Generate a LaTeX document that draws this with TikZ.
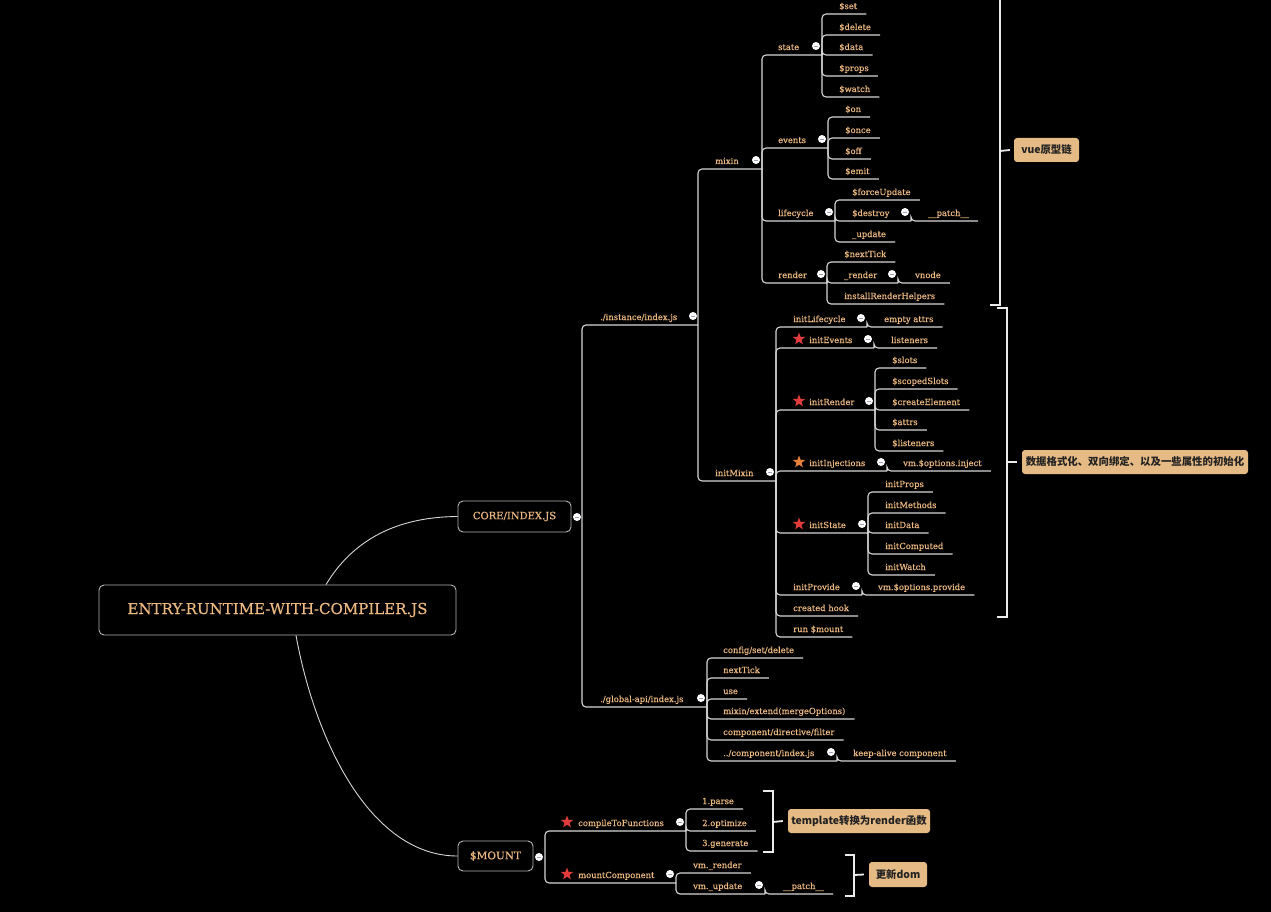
\documentclass[tikz,border=0pt]{standalone}
\usepackage{fontspec}
\setmainfont{DejaVu Serif}
\newfontfamily\slab{DejaVu Serif}[BoldFont=DejaVu Serif, BoldFeatures={FakeBold=0.45}]
\newfontfamily\cjk{Noto Sans CJK SC}
\usetikzlibrary{shapes.geometric,calc}
\definecolor{txt}{HTML}{EBB880}
\definecolor{lnc}{HTML}{D6D6D6}
\definecolor{labc}{HTML}{E6BA84}
\definecolor{starr}{HTML}{E23B3B}
\definecolor{staro}{HTML}{E8823A}
\definecolor{boxb}{HTML}{B5B5B5}
\definecolor{labt}{HTML}{222222}
\definecolor{minusc}{HTML}{9AA3B5}
\tikzset{
  tx/.style={font=\slab\bfseries\fontsize{8.4}{10}\selectfont, text=txt, inner sep=0pt, anchor=base west},
  ln/.style={draw=lnc, line width=1.1pt, rounded corners=4pt},
  cv/.style={draw=lnc, line width=0.9pt},
  br/.style={draw=white!92!black, line width=1.8pt},
  cir/.style={circle, fill=white, minimum size=8pt, inner sep=0pt,
    path picture={\draw[minusc, line width=0.8pt]
      ([xshift=-2pt]path picture bounding box.center) -- ([xshift=2pt]path picture bounding box.center);}},
  starshape/.style={star, star points=5, star point ratio=2.4, minimum size=13pt, inner sep=0pt, draw=none},
  boxnode/.style={draw=boxb, line width=0.9pt, rounded corners=5pt, fill=black, text=txt, inner sep=0pt},
  labnode/.style={fill=labc, rounded corners=3pt, text=labt, inner sep=0pt,
    font=\cjk\bfseries\fontsize{10.4}{12}\selectfont, minimum height=24pt},
}
\newcommand\lf[5]{%
  \node[tx] (#1) at (#2,#3-5) {#4};
  \draw[ln] (#5-sp) |- ([shift={(9pt,-5pt)}]#1.base east);}
\newcommand\pn[7]{%
  \node[tx] (#1) at (#2,#3-5) {#4};
  \coordinate (#1-sp) at (#7,#3);
  \draw[ln] (#5-sp) |- (#1-sp);
  \node[cir] (#1-c) at (#6,#3-9) {};}
\begin{document}
\begin{tikzpicture}[x=1pt,y=-1pt]
\fill[black] (0,0) rectangle (1271,912);
\useasboundingbox (0,0) rectangle (1271,912);

% root and main boxes
\node[boxnode, minimum width=357pt, minimum height=50pt, font=\slab\bfseries\fontsize{15}{17}\selectfont] (root) at (277.5,610) {ENTRY-RUNTIME-WITH-COMPILER.JS};
\node[boxnode, minimum width=113pt, minimum height=31pt, font=\slab\bfseries\fontsize{10}{12}\selectfont] (core) at (514.5,516.5) {CORE/INDEX.JS};
\node[boxnode, minimum width=75pt, minimum height=30pt, font=\slab\bfseries\fontsize{10.5}{12}\selectfont] (mount) at (495.5,856) {\$MOUNT};
\draw[cv] ([xshift=48.5pt]root.north) .. controls (350,545) and (390,517) .. (core.west);
\draw[cv] ([xshift=18.5pt]root.south) .. controls (315,740) and (370,856) .. (mount.west);
\coordinate (core-sp) at (582,517);
\node[cir] (core-c) at (577,517) {};
\coordinate (mount-sp) at (545,857);
\node[cir] (mount-c) at (539,857) {};

% ./instance/index.js
\pn{inst}{600}{325}{./instance/index.js}{core}{693}{698}
\pn{mixin}{715}{169}{mixin}{inst}{756}{762}
\pn{state}{778}{55}{state}{mixin}{816}{822}
\lf{sset}{839}{14}{\$set}{state}
\lf{sdelete}{839}{35}{\$delete}{state}
\lf{sdata}{839}{55}{\$data}{state}
\lf{sprops}{839}{76}{\$props}{state}
\lf{swatch}{839}{97}{\$watch}{state}
\pn{events}{778}{148}{events}{mixin}{822}{828}
\lf{son}{845}{117}{\$on}{events}
\lf{sonce}{845}{138}{\$once}{events}
\lf{soff}{845}{159}{\$off}{events}
\lf{semit}{845}{179}{\$emit}{events}
\pn{lifecycle}{778}{221}{lifecycle}{mixin}{829}{835}
\lf{sforce}{852}{200}{\$forceUpdate}{lifecycle}
\pn{sdestroy}{852}{221}{\$destroy}{lifecycle}{905}{911}
\lf{patcha}{928}{221}{\_\_patch\_\_}{sdestroy}
\lf{uupdate}{852}{242}{\_update}{lifecycle}
\pn{render}{778}{283}{render}{mixin}{821}{827}
\lf{snext}{844}{262}{\$nextTick}{render}
\pn{urender}{844}{283}{\_render}{render}{892}{898}
\lf{vnode}{915}{283}{vnode}{urender}
\lf{irh}{844}{304}{installRenderHelpers}{render}

\pn{initmixin}{715}{481}{initMixin}{inst}{770}{776}
\pn{ilife}{793}{327}{initLifecycle}{initmixin}{861}{867}
\lf{empty}{884}{327}{empty attrs}{ilife}
\pn{ievents}{809}{348}{initEvents}{initmixin}{868}{874}
\lf{listeners}{891}{348}{listeners}{ievents}
\pn{irender}{809}{410}{initRender}{initmixin}{869}{875}
\lf{slots}{892}{368}{\$slots}{irender}
\lf{scoped}{892}{389}{\$scopedSlots}{irender}
\lf{create}{892}{410}{\$createElement}{irender}
\lf{attrs}{892}{430}{\$attrs}{irender}
\lf{slisteners}{892}{451}{\$listeners}{irender}
\pn{iinject}{809}{471}{initInjections}{initmixin}{881}{887}
\lf{vminject}{903}{471}{vm.\$options.inject}{iinject}
\pn{istate}{809}{533}{initState}{initmixin}{862}{868}
\lf{iprops}{885}{492}{initProps}{istate}
\lf{imethods}{885}{513}{initMethods}{istate}
\lf{idata}{885}{533}{initData}{istate}
\lf{icomputed}{885}{554}{initComputed}{istate}
\lf{iwatch}{885}{575}{initWatch}{istate}
\pn{iprovide}{793}{595}{initProvide}{initmixin}{856}{862}
\lf{vmprovide}{878}{595}{vm.\$options.provide}{iprovide}
\lf{created}{793}{616}{created hook}{initmixin}
\lf{runmount}{793}{637}{run \$mount}{initmixin}

\node[starshape, fill=starr] (st1) at (799,339) {};
\node[starshape, fill=starr] (st2) at (799,401) {};
\node[starshape, fill=staro] (st3) at (799,462) {};
\node[starshape, fill=starr] (st4) at (799,524) {};

% ./global-api/index.js
\pn{global}{600}{707}{./global-api/index.js}{core}{701}{707}
\lf{config}{723}{658}{config/set/delete}{global}
\lf{gnext}{723}{678}{nextTick}{global}
\lf{use}{723}{699}{use}{global}
\lf{mixext}{723}{719}{mixin/extend(mergeOptions)}{global}
\lf{comp}{723}{740}{component/directive/filter}{global}
\pn{compidx}{723}{761}{../component/index.js}{global}{831}{837}
\lf{keep}{853}{761}{keep-alive component}{compidx}

% $MOUNT
\pn{ctf}{578}{831}{compileToFunctions}{mount}{680}{686}
\lf{parse}{702}{809}{1.parse}{ctf}
\lf{optimize}{702}{831}{2.optimize}{ctf}
\lf{generate}{702}{851}{3.generate}{ctf}
\pn{mc}{578}{883}{mountComponent}{mount}{670}{676}
\lf{vmrender}{693}{873}{vm.\_render}{mc}
\pn{vmupdate}{693}{894}{vm.\_update}{mc}{759}{765}
\lf{patchb}{783}{894}{\_\_patch\_\_}{vmupdate}
\node[starshape, fill=starr] (st5) at (567,822) {};
\node[starshape, fill=starr] (st6) at (567,874) {};

% summaries
\draw[br] (990,305) -- (1000,305) -- (1000,-5);
\coordinate (b1) at (1000,151);
\node[labnode, minimum width=65pt] (lab1) at (1046.5,150) {vue原型链};
\draw[br] (b1) -- ([xshift=-4pt]lab1.west);

\draw[br] (997,308) -- (1007,308) -- (1007,617) -- (997,617);
\coordinate (b2) at (1007,462);
\node[labnode, minimum width=226pt] (lab2) at (1135,462) {数据格式化、双向绑定、以及一些属性的初始化};
\draw[br] (b2) -- ([xshift=-5pt]lab2.west);

\draw[br] (763,791) -- (773,791) -- (773,852) -- (763,852);
\coordinate (b3) at (773,822);
\node[labnode, minimum width=142pt] (lab3) at (859,821) {template转换为render函数};
\draw[br] (b3) -- ([xshift=-5pt]lab3.west);

\draw[br] (845,855) -- (854,855) -- (854,896) -- (845,896);
\coordinate (b4) at (854,875);
\node[labnode, minimum width=58pt, minimum height=25pt] (lab4) at (898,874.5) {更新dom};
\draw[br] (b4) -- ([xshift=-5pt]lab4.west);
\end{tikzpicture}
\end{document}
